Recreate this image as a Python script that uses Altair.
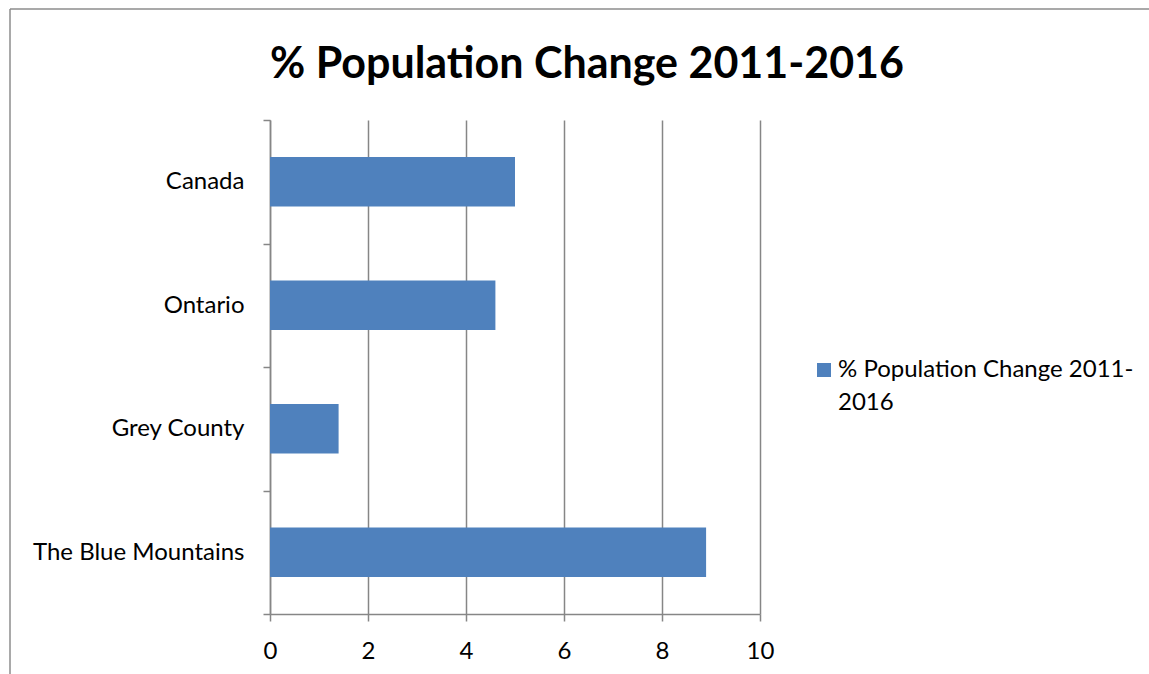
import altair as alt
import pandas as pd

# Percentage population change between the 2011 and 2016 censuses
regions = ["Canada", "Ontario", "Grey County", "The Blue Mountains"]
pct_change = [5.0, 4.6, 1.4, 8.9]
series_name = "% Population Change 2011-2016"
x_ticks = [0, 2, 4, 6, 8, 10]

BLUE = "#4F81BD"
GREY = "#868686"
FONT = "Lato"
LABEL_SIZE = 24

df = pd.DataFrame({"Region": regions, "Change": pct_change, "Series": series_name})

# Bars take 40% of each category band; ticks sit on the band boundaries
bars = alt.Chart(df).mark_bar(color=BLUE, height=alt.RelativeBandSize(0.4)).encode(
    y=alt.Y(
        "Region:N",
        sort=regions,
        title=None,
        scale=alt.Scale(paddingInner=0, paddingOuter=0),
        axis=alt.Axis(
            tickBand="extent",
            tickSize=7,
            tickColor=GREY,
            tickWidth=1.5,
            domainColor=GREY,
            domainWidth=1.5,
            labelFont=FONT,
            labelFontSize=LABEL_SIZE,
            labelColor="#000000",
            labelPadding=19,
            labelLimit=300,
            grid=False,
        ),
    ),
    x=alt.X(
        "Change:Q",
        title=None,
        scale=alt.Scale(domain=[0, 10], nice=False),
        axis=alt.Axis(
            values=x_ticks,
            format="d",
            grid=True,
            gridColor=GREY,
            gridWidth=1.5,
            tickSize=7,
            tickColor=GREY,
            tickWidth=1.5,
            domainColor=GREY,
            domainWidth=1.5,
            labelFont=FONT,
            labelFontSize=LABEL_SIZE,
            labelColor="#000000",
            labelPadding=18,
            labelFlush=False,
        ),
    ),
    color=alt.Color(
        "Series:N",
        scale=alt.Scale(range=[BLUE]),
        legend=alt.Legend(
            title=None,
            orient="none",
            legendX=542,
            legendY=238,
            padding=0,
            symbolType="square",
            symbolSize=196,
            symbolStrokeWidth=0,
            symbolOpacity=1,
            labelFont=FONT,
            labelFontSize=LABEL_SIZE,
            labelColor="#000000",
            labelOffset=2,
            labelLimit=400,
            labelExpr="[slice(datum.label, 0, 25), slice(datum.label, 25)]",
        ),
    ),
)

# Outer chart frame (top and left edges)
frame_src = pd.DataFrame({"k": [0]})
frame_top = alt.Chart(frame_src).mark_rule(color="#8C8C8C", strokeWidth=1.5).encode(
    x=alt.value(-260), x2=alt.value(879), y=alt.value(-111)
)
frame_left = alt.Chart(frame_src).mark_rule(color="#8C8C8C", strokeWidth=1.5).encode(
    x=alt.value(-260), y=alt.value(-111), y2=alt.value(554)
)

chart = (
    alt.layer(bars, frame_top, frame_left)
    .properties(
        width=490,
        height=494,
        autosize=alt.AutoSizeParams(type="none"),
        padding={"left": 270, "top": 120, "right": 389, "bottom": 60},
        title=alt.TitleParams(
            text=series_name,
            font=FONT,
            fontSize=43,
            fontWeight="bold",
            color="#000000",
            anchor="middle",
            baseline="alphabetic",
            offset=-113,
            dx=72,
        ),
    )
    .configure(style={"guide-label": {"lineHeight": 33}})
    .configure_view(stroke=None)
)

chart.save("out.html", embed_options={"renderer": "svg", "actions": False})
